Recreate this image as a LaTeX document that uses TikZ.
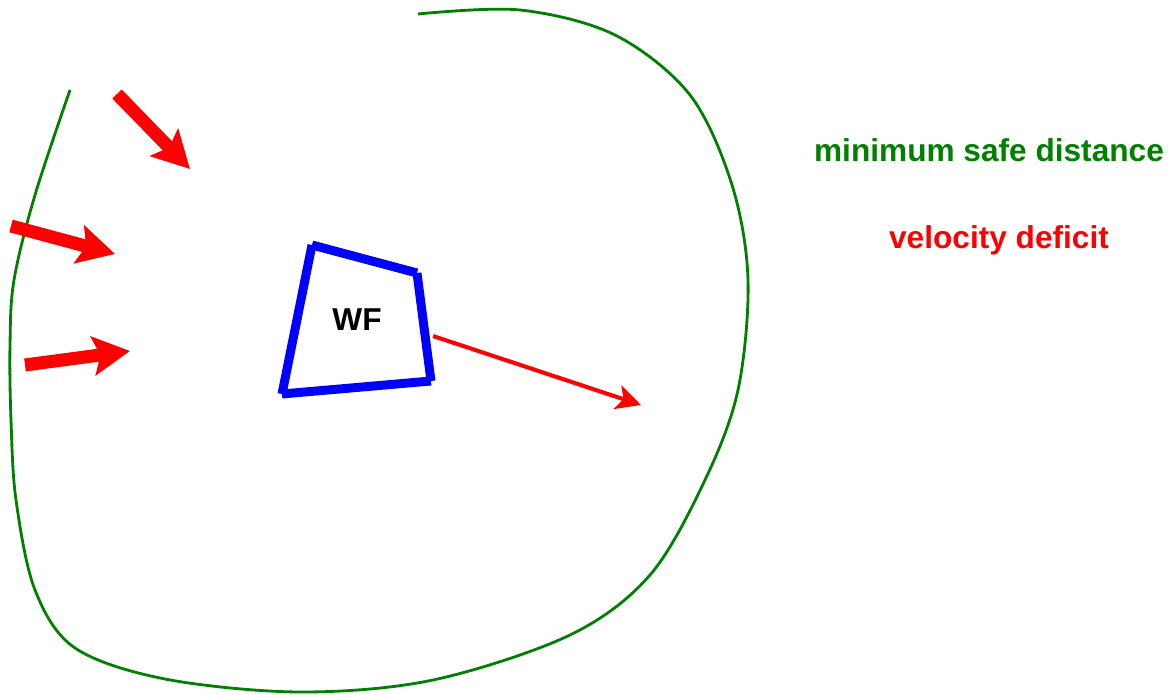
\documentclass[tikz,border=0pt]{standalone}
\usepackage{fontspec}
\setmainfont{Liberation Sans}
\usetikzlibrary{arrows.meta}
\definecolor{safegreen}{RGB}{0,128,0}
\begin{document}
\begin{tikzpicture}[x=0.02cm, y=-0.02cm,
  inflow/.style={red, line width=7.4pt, -{Stealth[length=21pt, width=22pt, inset=4pt]}},
  deficit/.style={red, line width=2.3pt, -{Stealth[length=14pt, width=14pt, inset=3.5pt]}},
  farm/.style={blue, line width=5.1pt, line cap=butt},
  label/.style={font=\fontsize{18}{22}\selectfont\bfseries}]
\useasboundingbox (0,0) rectangle (1171,695);
% Eckpunkte des Windparks
\coordinate (A) at (312,245);
\coordinate (B) at (417,273);
\coordinate (C) at (431,381);
\coordinate (D) at (282,394);
\coordinate (E) at (433,336);
\coordinate (Wt) at (641,405);
% Zustroemung
\coordinate (I1) at (117,94);
\coordinate (J1) at (190,169);
\coordinate (I2) at (11,226);
\coordinate (J2) at (115,254);
\coordinate (I3) at (25,365);
\coordinate (J3) at (130,351);
% Mindestabstand
\draw[safegreen, line width=1.6pt] plot[smooth, tension=0.55] coordinates {
  (418,14) (520,10) (615,35) (690,95) (732,185) (748,280) (738,390)
  (705,480) (650,575) (570,635) (433,680) (300,692) (165,679)
  (75,648) (35,590) (16,500) (11,420) (10,345) (14,280) (35,195) (70,90)};
\draw[farm] (A) -- (B) (B) -- (C) (C) -- (D) (D) -- (A);
\node[label] (wf) at (357,320) {WF};
\draw[inflow] (I1) -- (J1);
\draw[inflow] (I2) -- (J2);
\draw[inflow] (I3) -- (J3);
\draw[deficit] (E) -- (Wt);
\node[label, text=safegreen] (msd) at (989,150) {minimum safe distance};
\node[label, text=red] (vd) at (999,240) {velocity deficit};
\end{tikzpicture}
\end{document}
